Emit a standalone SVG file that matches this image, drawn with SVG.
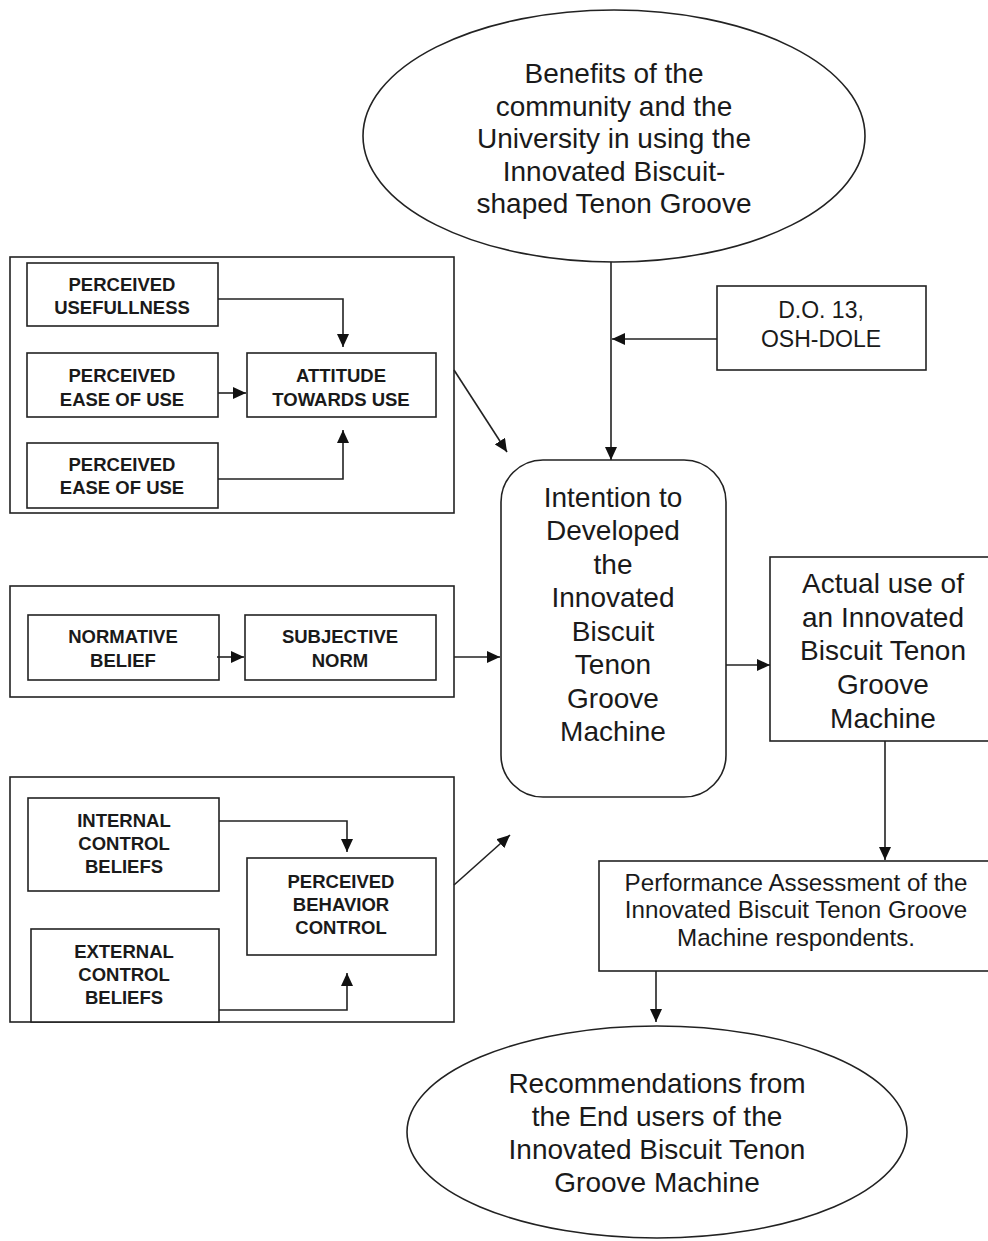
<svg xmlns="http://www.w3.org/2000/svg" width="988" height="1241" viewBox="0 0 988 1241">
<style>
.box{fill:#fff;stroke:#222;stroke-width:1.6}
.grp{fill:none;stroke:#222;stroke-width:1.6}
.ln{fill:none;stroke:#222;stroke-width:1.6}
.big{font-family:"Liberation Sans",Arial,sans-serif;font-size:28px;fill:#1a1a1a;text-anchor:middle}
.mid{font-family:"Liberation Sans",Arial,sans-serif;font-size:23px;fill:#1a1a1a;text-anchor:middle}
.perf{font-family:"Liberation Sans",Arial,sans-serif;font-size:24.2px;fill:#1a1a1a;text-anchor:middle}
.sm{font-family:"Liberation Sans",Arial,sans-serif;font-size:18.5px;font-weight:bold;fill:#1a1a1a;text-anchor:middle}
</style>
<defs>
<marker id="ah" markerUnits="userSpaceOnUse" markerWidth="14" markerHeight="12" viewBox="0 0 14 12" refX="13" refY="6" orient="auto">
<path d="M0,0 L13,6 L0,12 z" fill="#111"/>
</marker>
</defs>
<rect width="988" height="1241" fill="#fff"/>

<g id="group-tam"><rect class="grp" x="10" y="257" width="444" height="256"/></g>
<g id="group-norm"><rect class="grp" x="10" y="586" width="444" height="111"/></g>
<g id="group-control"><rect class="grp" x="10" y="777" width="444" height="245"/></g>

<g id="benefits">
<ellipse class="box" cx="614" cy="136" rx="251" ry="126"/>
<text class="big" x="614" y="83">Benefits of the</text>
<text class="big" x="614" y="116">community and the</text>
<text class="big" x="614" y="148">University in using the</text>
<text class="big" x="614" y="181">Innovated Biscuit-</text>
<text class="big" x="614" y="213">shaped Tenon Groove</text>
</g>

<g id="usefullness">
<rect class="box" x="27" y="263" width="191" height="63"/>
<text class="sm" x="122" y="291">PERCEIVED</text>
<text class="sm" x="122" y="314">USEFULLNESS</text>
</g>
<g id="ease1">
<rect class="box" x="27" y="353" width="191" height="64"/>
<text class="sm" x="122" y="382">PERCEIVED</text>
<text class="sm" x="122" y="406">EASE OF USE</text>
</g>
<g id="ease2">
<rect class="box" x="27" y="443" width="191" height="65"/>
<text class="sm" x="122" y="471">PERCEIVED</text>
<text class="sm" x="122" y="494">EASE OF USE</text>
</g>
<g id="attitude">
<rect class="box" x="247" y="353" width="189" height="64"/>
<text class="sm" x="341" y="382">ATTITUDE</text>
<text class="sm" x="341" y="406">TOWARDS USE</text>
</g>

<g id="normative">
<rect class="box" x="28" y="615" width="191" height="65"/>
<text class="sm" x="123" y="643">NORMATIVE</text>
<text class="sm" x="123" y="667">BELIEF</text>
</g>
<g id="subjective">
<rect class="box" x="245" y="615" width="191" height="65"/>
<text class="sm" x="340" y="643">SUBJECTIVE</text>
<text class="sm" x="340" y="667">NORM</text>
</g>

<g id="internal">
<rect class="box" x="28" y="798" width="191" height="93"/>
<text class="sm" x="124" y="827">INTERNAL</text>
<text class="sm" x="124" y="850">CONTROL</text>
<text class="sm" x="124" y="873">BELIEFS</text>
</g>
<g id="external">
<rect class="box" x="31" y="929" width="188" height="93"/>
<text class="sm" x="124" y="958">EXTERNAL</text>
<text class="sm" x="124" y="981">CONTROL</text>
<text class="sm" x="124" y="1004">BELIEFS</text>
</g>
<g id="pbc">
<rect class="box" x="247" y="858" width="189" height="97"/>
<text class="sm" x="341" y="888">PERCEIVED</text>
<text class="sm" x="341" y="911">BEHAVIOR</text>
<text class="sm" x="341" y="934">CONTROL</text>
</g>

<g id="do13">
<rect class="box" x="717" y="286" width="209" height="84"/>
<text class="mid" x="821" y="318">D.O. 13,</text>
<text class="mid" x="821" y="347">OSH-DOLE</text>
</g>

<g id="intention">
<rect class="box" x="501" y="460" width="225" height="337" rx="42" ry="42"/>
<text class="big" x="613" y="507">Intention to</text>
<text class="big" x="613" y="540">Developed</text>
<text class="big" x="613" y="574">the</text>
<text class="big" x="613" y="607">Innovated</text>
<text class="big" x="613" y="641">Biscuit</text>
<text class="big" x="613" y="674">Tenon</text>
<text class="big" x="613" y="708">Groove</text>
<text class="big" x="613" y="741">Machine</text>
</g>

<g id="actual">
<rect class="box" x="770" y="557" width="230" height="184"/>
<text class="big" x="883" y="593">Actual use of</text>
<text class="big" x="883" y="627">an Innovated</text>
<text class="big" x="883" y="660">Biscuit Tenon</text>
<text class="big" x="883" y="694">Groove</text>
<text class="big" x="883" y="728">Machine</text>
</g>

<g id="performance">
<rect class="box" x="599" y="861" width="401" height="110"/>
<text class="perf" x="796" y="891">Performance Assessment of the</text>
<text class="perf" x="796" y="918">Innovated Biscuit Tenon Groove</text>
<text class="perf" x="796" y="946">Machine respondents.</text>
</g>

<g id="recommendations">
<ellipse class="box" cx="657" cy="1132" rx="250" ry="106"/>
<text class="big" x="657" y="1093">Recommendations from</text>
<text class="big" x="657" y="1126">the End users of the</text>
<text class="big" x="657" y="1159">Innovated Biscuit Tenon</text>
<text class="big" x="657" y="1192">Groove Machine</text>
</g>

<g id="connectors">
<path class="ln" d="M218,299 H343 V347" marker-end="url(#ah)"/>
<path class="ln" d="M218,393 H246" marker-end="url(#ah)"/>
<path class="ln" d="M218,479 H343 V430" marker-end="url(#ah)"/>
<path class="ln" d="M454,370 L507,452" marker-end="url(#ah)"/>
<path class="ln" d="M217,657 H244" marker-end="url(#ah)"/>
<path class="ln" d="M454,657 H500" marker-end="url(#ah)"/>
<path class="ln" d="M219,821 H347 V852" marker-end="url(#ah)"/>
<path class="ln" d="M219,1010 H347 V973" marker-end="url(#ah)"/>
<path class="ln" d="M454,885 L510,835" marker-end="url(#ah)"/>
<path class="ln" d="M611,262 V460" marker-end="url(#ah)"/>
<path class="ln" d="M717,339 H612" marker-end="url(#ah)"/>
<path class="ln" d="M726,665 H770" marker-end="url(#ah)"/>
<path class="ln" d="M885,741 V860" marker-end="url(#ah)"/>
<path class="ln" d="M656,971 V1022" marker-end="url(#ah)"/>
</g>
</svg>
